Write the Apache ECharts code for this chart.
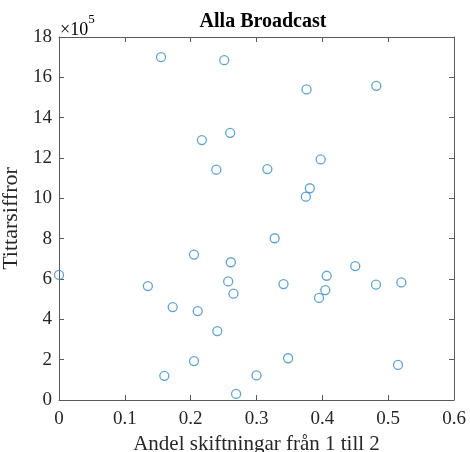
<!DOCTYPE html>
<html><head><meta charset="utf-8">
<script src="https://cdn.jsdelivr.net/npm/echarts@6/dist/echarts.min.js"></script>
<style>html,body{margin:0;padding:0;background:#fff}#c{width:470px;height:452px}</style>
</head><body><div id="c"></div>
<script>
const shareShift = [0.155,0.251,0.376,0.482,0.217,0.260,0.3975,0.239,0.3165,0.381,0.375,0.3276,0.205,0.261,0.0,0.135,0.257,0.265,0.341,0.450,0.4066,0.4045,0.395,0.4815,0.520,0.1727,0.2107,0.2405,0.205,0.348,0.160,0.300,0.269,0.515];
const viewers = [1700000,1685000,1540000,1558000,1289000,1325000,1193000,1142000,1145000,1050000,1008000,802000,721000,683000,620000,565000,588000,527000,575000,664000,616000,545000,506000,572000,583000,461000,441000,342000,193000,207000,120000,122000,30000,174000];
const xTicks = [0,0.1,0.2,0.3,0.4,0.5,0.6];
const yTicks = [0,2,4,6,8,10,12,14,16,18];
const titleText = 'Alla Broadcast';
const xName = 'Andel skiftningar från 1 till 2';
const yName = 'Tittarsiffror';
const scale = 1e5;

const points = shareShift.map((x,i)=>[x, viewers[i]]);
const font = '"Liberation Serif","Times New Roman",serif';
const axisCol = '#5a5a5a';
const labCol = '#262626';
const chart = echarts.init(document.getElementById('c'), null, {renderer:'canvas'});
const baseX = {type:'value', min:xTicks[0], max:xTicks[xTicks.length-1], interval:0.1,
  splitLine:{show:false}, axisLine:{show:true,onZero:false,lineStyle:{color:axisCol,width:1}},
  axisTick:{show:true,inside:true,length:5,lineStyle:{color:axisCol}}};
const baseY = {type:'value', min:yTicks[0]*scale, max:yTicks[yTicks.length-1]*scale, interval:2*scale,
  splitLine:{show:false}, axisLine:{show:true,onZero:false,lineStyle:{color:axisCol,width:1}},
  axisTick:{show:true,inside:true,length:5,lineStyle:{color:axisCol}}};
chart.setOption({
  animation:false,
  backgroundColor:'#fff',
  title:{text:titleText,left:258,textAlign:'center',top:7,
    textStyle:{fontFamily:font,fontWeight:'bold',fontSize:20,color:'#000'}},
  grid:{left:59,right:16,top:37,bottom:52,containLabel:false,outerBoundsMode:'none'},
  xAxis:[
    Object.assign({}, baseX, {position:'bottom', name:xName, nameLocation:'middle', nameGap:33,
      nameTextStyle:{fontFamily:font,fontSize:21,color:labCol},
      axisLabel:{show:true,margin:10,fontFamily:font,fontSize:19,color:labCol,
        formatter:v=>String(+v.toFixed(1))}}),
    Object.assign({}, baseX, {position:'top', axisLabel:{show:false}})
  ],
  yAxis:[
    Object.assign({}, baseY, {position:'left', name:yName, nameLocation:'middle', nameGap:30,
      nameTextStyle:{fontFamily:font,fontSize:22,color:labCol},
      axisLabel:{show:true,margin:7,fontFamily:font,fontSize:19,color:labCol,
        formatter:v=>String(Math.round(v/scale))}}),
    Object.assign({}, baseY, {position:'right', axisLabel:{show:false}})
  ],
  graphic:[{type:'text', left:60, top:13, style:{
    text:'{a|×10}{b|5}', fontFamily:font,
    rich:{a:{fontFamily:font,fontSize:18,color:labCol,padding:[8,0,0,0]},
          b:{fontFamily:font,fontSize:13,color:labCol,verticalAlign:'top',padding:[0,0,10,0]}}}}],
  series:[{type:'scatter', xAxisIndex:0, yAxisIndex:0, data:points, symbol:'circle', symbolSize:9,
    clip:false,
    itemStyle:{color:'rgba(255,255,255,0)', borderColor:'#3a8cc4', borderWidth:1.3}}]
});
</script></body></html>
